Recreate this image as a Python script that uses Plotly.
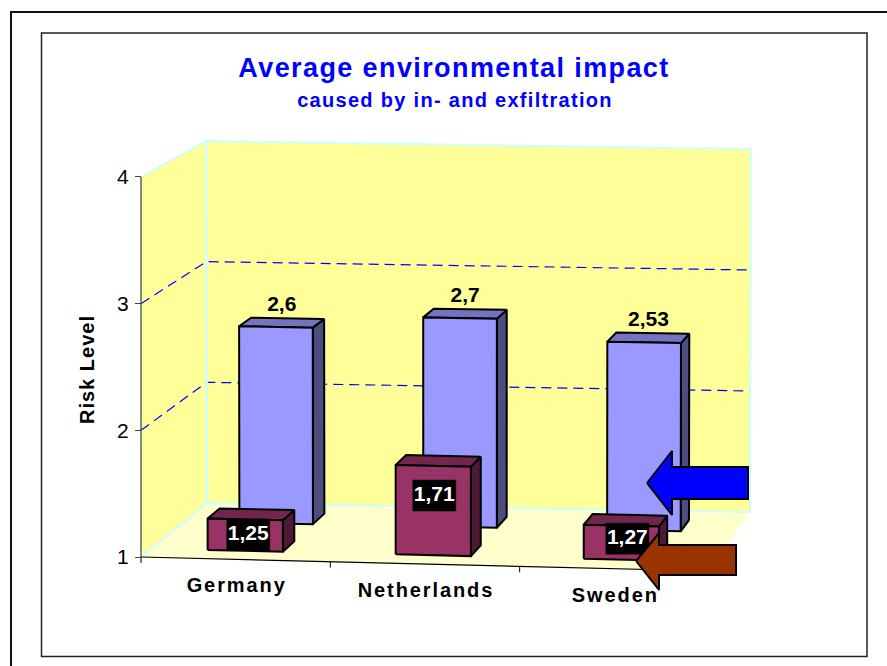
import plotly.graph_objects as go

categories = ["Germany", "Netherlands", "Sweden"]
back_values = [2.6, 2.7, 2.53]
front_values = [1.25, 1.71, 1.27]
y_ticks = [1, 2, 3, 4]

W, H = 887, 666
FONT = "Liberation Sans, Arial, sans-serif"
X0, CAT_PX = 141, 189.33
Y0, VAL_PX = 557, 126.67

def to_x(px):
    return (px - X0) / CAT_PX

def to_y(py):
    return 1 + (Y0 - py) / VAL_PX

# corners of the 3-D box in page pixels: (c, d, v)
CORNERS = {
    (0, 0, 1): (141, 557), (3, 0, 1): (709, 571),
    (0, 1, 1): (207, 503), (3, 1, 1): (750, 512),
    (0, 0, 4): (141, 177), (3, 0, 4): (709, 190),
    (0, 1, 4): (206, 141), (3, 1, 4): (751, 149),
}

def proj_px(c, d, v):
    tc, tv = c / 3, (v - 1) / 3
    px = py = 0
    for (cc, dd, vv), (x, y) in CORNERS.items():
        w = (tc if cc else 1 - tc) * (d if dd else 1 - d) * (tv if vv == 4 else 1 - tv)
        px += w * x
        py += w * y
    return px, py

def proj(c, d, v):
    px, py = proj_px(c, d, v)
    return to_x(px), to_y(py)

fig = go.Figure()

def poly(pts, fill=None, line="black", width=1.5, dash=None, closed=True):
    xs = [p[0] for p in pts]
    ys = [p[1] for p in pts]
    if closed:
        xs.append(xs[0])
        ys.append(ys[0])
    fig.add_trace(go.Scatter(
        x=xs, y=ys, mode="lines",
        fill="toself" if fill else "none", fillcolor=fill,
        line=dict(color=line, width=width, dash=dash, simplify=False),
        hoverinfo="skip", showlegend=False, cliponaxis=False))

def label(px, py, text, size, color="black", bold=True, spacing=None):
    t = f"<b>{text}</b>" if bold else text
    if spacing:
        t = f'<span style="letter-spacing:{spacing}px">{t}</span>'
    fig.add_trace(go.Scatter(
        x=[to_x(px)], y=[to_y(py)], mode="text", text=[t],
        textposition="middle center",
        textfont=dict(family=FONT, size=size, color=color),
        hoverinfo="skip", showlegend=False, cliponaxis=False))

YELLOW, FLOOR, EDGE, GRID = "#FFFF99", "#FFFFCC", "#CCFFFF", "#0000FF"

# walls
poly([proj(0, 0, 1), proj(0, 1, 1), proj(0, 1, 4), proj(0, 0, 4)], YELLOW, YELLOW, 0.5)
poly([proj(0, 1, 1), proj(3, 1, 1), proj(3, 1, 4), proj(0, 1, 4)], YELLOW, YELLOW, 0.5)
poly([proj(0, 0, 1), proj(3, 0, 1), proj(3, 1, 1), proj(0, 1, 1)], FLOOR, FLOOR, 0.5)

# gridlines
for v in y_ticks[1:-1]:
    poly([proj(0, 0, v), proj(0, 1, v), proj(3, 1, v)], line=GRID, width=1.2,
         dash="10px,6px", closed=False)

# wall edges
poly([proj(0, 0, 4), proj(0, 1, 4), proj(3, 1, 4), proj(3, 1, 1), proj(0, 1, 1), proj(0, 0, 1)],
     line=EDGE, width=2, closed=False)
poly([proj(0, 1, 4), proj(0, 1, 1)], line=EDGE, width=2.5, closed=False)

# axes lines
poly([proj(0, 0, 1), proj(0, 0, 4)], line="#4a5a5a", width=1.4, closed=False)
poly([proj(0, 0, 1), proj(3, 0, 1)], line="black", width=1.2, closed=False)
for c in range(3):
    px, py = proj_px(c, 0, 1)
    poly([(to_x(px), to_y(py)), (to_x(px), to_y(py + 6))], line="black", width=1, closed=False)

GAP_C = 0.3

def bar(i, v, d0, d1, front, top, side):
    c0, c1 = i + GAP_C, i + 1 - GAP_C
    poly([proj(c1, d0, 1), proj(c1, d1, 1), proj(c1, d1, v), proj(c1, d0, v)], side, "black", 2)
    poly([proj(c0, d0, v), proj(c1, d0, v), proj(c1, d1, v), proj(c0, d1, v)], top, "black", 2)
    poly([proj(c0, d0, 1), proj(c1, d0, 1), proj(c1, d0, v), proj(c0, d0, v)], front, "black", 2)

# back row
for i, v in enumerate(back_values):
    bar(i, v, 0.655, 0.845, "#9999FF", "#7373BF", "#4D4D80")
for i, v in enumerate(back_values):
    px, py = proj_px(i + 0.5, 0.75, v)
    label(px, py - 17, f"{v:g}".replace(".", ","), 21)

# front row
label_dy = [0, -15, -4]
label_dx = [3, 1, 6]
for i, v in enumerate(front_values):
    bar(i, v, 0.155, 0.345, "#993366", "#73264D", "#4D1A33")
for i, v in enumerate(front_values):
    x0, y0 = proj_px(i + 0.5, 0.155, 1)
    x1, y1 = proj_px(i + 0.5, 0.155, v)
    cx, cy = x0 + label_dx[i], (y0 + y1) / 2 + label_dy[i]
    poly([(to_x(cx - 21.5), to_y(cy - 15.5)), (to_x(cx + 21.5), to_y(cy - 15.5)),
          (to_x(cx + 21.5), to_y(cy + 15.5)), (to_x(cx - 21.5), to_y(cy + 15.5))],
         "black", "black", 0.5)
    label(cx, cy, f"{v:g}".replace(".", ","), 21, color="white")

# category labels
for i, name in enumerate(categories):
    px, py = proj_px(i + 0.5, 0, 1)
    label(px + 1, py + 28, name, 20, spacing=1.9)

# callout arrows
def arrow(tip_x, tip_y, neck_x, head_top, head_bot, body_top, body_bot, right, color):
    pts = [(tip_x, tip_y), (neck_x, head_top), (neck_x, body_top), (right, body_top),
           (right, body_bot), (neck_x, body_bot), (neck_x, head_bot)]
    poly([(to_x(a), to_y(b)) for a, b in pts], color, "black", 2)

arrow(647, 483, 672, 451, 515, 467, 499, 748, "#0000FF")
arrow(636, 561, 659, 533, 590, 545, 575, 736, "#993300")

# title
label(454, 70.5, "Average environmental impact", 27, color="#0000FF", spacing=1.4)
label(455, 102, "caused by in- and exfiltration", 20, color="#0000FF", spacing=1.3)

fig.update_layout(
    width=W, height=H, margin=dict(l=0, r=0, t=0, b=0),
    paper_bgcolor="white", plot_bgcolor="white", showlegend=False,
    xaxis=dict(visible=False, range=[to_x(0), to_x(W)], fixedrange=True),
    yaxis=dict(range=[to_y(H), to_y(0)], anchor="free", position=X0 / W,
               tickvals=y_ticks, ticktext=[str(t) for t in y_ticks],
               ticks="outside", ticklen=6, tickcolor="#444", tickwidth=1,
               ticklabelstandoff=2,
               showgrid=False, zeroline=False, showline=False,
               tickfont=dict(family=FONT, size=21, color="black"), fixedrange=True),
    annotations=[dict(
        text='<b><span style="letter-spacing:1px">Risk Level</span></b>', textangle=-90,
        xref="x", yref="y", x=to_x(87), y=to_y(370), showarrow=False,
        font=dict(family=FONT, size=20, color="black"))],
    shapes=[
        dict(type="rect", layer="below", xref="x", yref="y",
             x0=to_x(11), y0=to_y(12), x1=to_x(W + 20), y1=to_y(H + 20),
             line=dict(color="#111", width=2)),
        dict(type="rect", layer="below", xref="x", yref="y",
             x0=to_x(41.5), y0=to_y(33), x1=to_x(867), y1=to_y(656.5),
             line=dict(color="#222", width=1.5)),
    ],
)

fig.write_html("out.html", config=dict(displayModeBar=False),
               post_script="document.body.style.margin='0';")
